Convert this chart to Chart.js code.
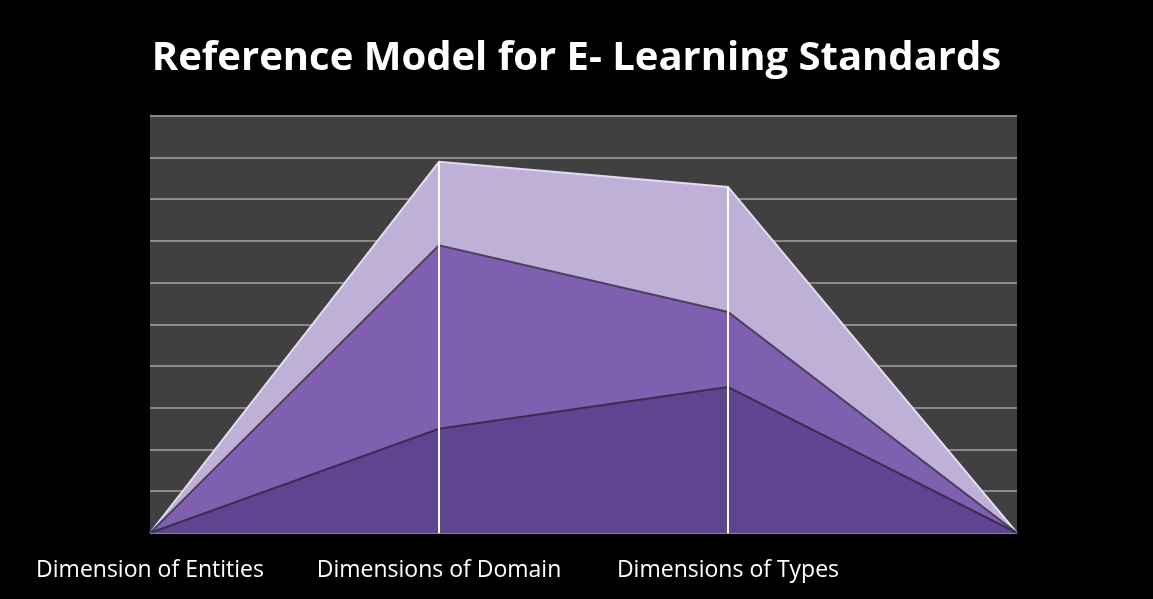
<!DOCTYPE html>
<html>
<head>
<meta charset="utf-8">
<script src="https://cdn.jsdelivr.net/npm/chart.js@4/dist/chart.umd.min.js"></script>
<style>
  html, body { margin: 0; padding: 0; background: #000; }
  #wrap { width: 1153px; height: 599px; }
</style>
</head>
<body>
<div id="wrap"><canvas id="chart"></canvas></div>
<script>
// Chart data
const categories = ['Dimension of Entities', 'Dimensions of Domain', 'Dimensions of Types', ''];
const seriesBottom = [0, 2.5, 3.5, 0];
const seriesMiddle = [0, 4.4, 1.8, 0];
const seriesTop = [0, 2.0, 3.0, 0];
const yTicks = [0, 1, 2, 3, 4, 5, 6, 7, 8, 9, 10];

// Dark gray plot background
const plotBackground = {
    id: 'plotBackground',
    beforeDraw(chart) {
        const { ctx, chartArea } = chart;
        ctx.save();
        ctx.fillStyle = '#404040';
        ctx.fillRect(chartArea.left, chartArea.top, chartArea.right - chartArea.left, chartArea.bottom - chartArea.top);
        ctx.restore();
    }
};

// White drop lines from the top of the stack down to the axis
const dropLines = {
    id: 'dropLines',
    afterDatasetsDraw(chart) {
        const { ctx, chartArea } = chart;
        const topMeta = chart.getDatasetMeta(chart.data.datasets.length - 1);
        ctx.save();
        ctx.strokeStyle = '#ffffff';
        ctx.lineWidth = 2;
        topMeta.data.forEach((pt, i) => {
            if (i === 0 || i === topMeta.data.length - 1) return;
            ctx.beginPath();
            ctx.moveTo(Math.round(pt.x), pt.y);
            ctx.lineTo(Math.round(pt.x), chartArea.bottom);
            ctx.stroke();
        });
        ctx.restore();
    }
};

const ctx = document.getElementById('chart').getContext('2d');
new Chart(ctx, {
    type: 'line',
    data: {
        labels: categories,
        datasets: [
            {
                label: 'Series 1',
                data: seriesBottom,
                backgroundColor: '#5f4590',
                borderColor: '#3a2c52',
                borderWidth: 2,
                fill: 'origin',
                pointRadius: 0,
                tension: 0
            },
            {
                label: 'Series 2',
                data: seriesMiddle,
                backgroundColor: '#7f5fb0',
                borderColor: '#4a405a',
                borderWidth: 2,
                fill: '-1',
                pointRadius: 0,
                tension: 0
            },
            {
                label: 'Series 3',
                data: seriesTop,
                backgroundColor: '#bfb0d8',
                borderColor: '#e4dcef',
                borderWidth: 2,
                fill: '-1',
                pointRadius: 0,
                tension: 0
            }
        ]
    },
    options: {
        responsive: true,
        maintainAspectRatio: false,
        animation: false,
        layout: { padding: { top: 20, right: 0, bottom: 0, left: 0 } },
        plugins: {
            legend: { display: false },
            tooltip: { enabled: false },
            title: {
                display: true,
                text: 'Reference Model for E- Learning Standards',
                color: '#ffffff',
                font: { family: '"Open Sans", sans-serif', size: 40, weight: 'bold' },
                padding: { top: 15, bottom: 33 }
            }
        },
        scales: {
            x: {
                offset: false,
                grid: { display: false },
                border: { display: false },
                ticks: {
                    color: '#ffffff',
                    font: { family: '"Open Sans", sans-serif', size: 23 },
                    autoSkip: false,
                    maxRotation: 0,
                    padding: 16
                },
                afterFit(scale) { scale.height = 66; }
            },
            y: {
                stacked: true,
                min: 0,
                max: 10,
                afterBuildTicks(scale) { scale.ticks = yTicks.map(v => ({ value: v })); },
                grid: { color: '#8a8a8a', lineWidth: 2, drawTicks: false },
                border: { display: false },
                ticks: { display: false },
                afterFit(scale) { scale.width = 150; }
            },
            // empty right-hand axis only to keep the black margin on the right
            yRight: {
                position: 'right',
                min: 0,
                max: 10,
                grid: { display: false },
                border: { display: false },
                ticks: { display: false },
                afterFit(scale) { scale.width = 136; }
            }
        }
    },
    plugins: [plotBackground, dropLines]
});
</script>
</body>
</html>
